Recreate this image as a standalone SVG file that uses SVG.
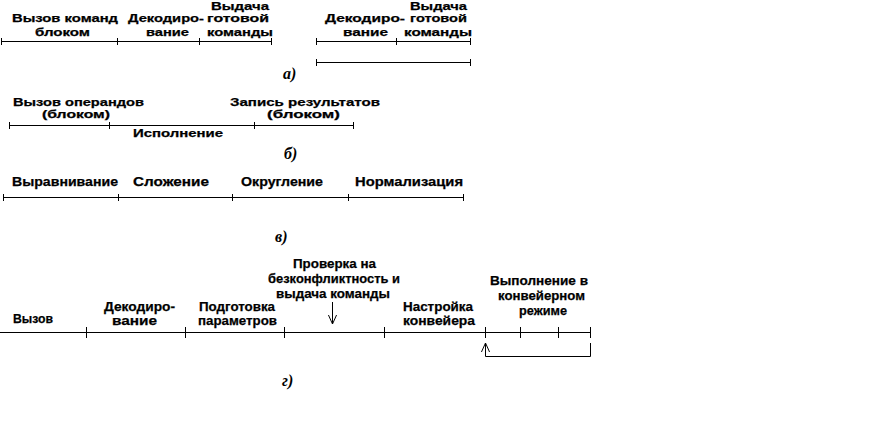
<svg xmlns="http://www.w3.org/2000/svg" width="889" height="448" viewBox="0 0 889 448">
<style>
.t{font-family:"Liberation Sans",Arial,sans-serif;font-weight:bold;font-size:11px;fill:#000;stroke:#000;stroke-width:0.25}
.tc{font-size:12px}
.tg{font-size:13.5px}
.lbl{font-family:"Liberation Serif","Times New Roman",serif;font-weight:bold;font-style:italic;font-size:16px;fill:#000}
.ln{stroke:#000;stroke-width:1;fill:none}
</style>
<defs>
<marker id="v" viewBox="0 0 10 10" refX="10" refY="5" markerWidth="10" markerHeight="9" markerUnits="userSpaceOnUse" orient="auto">
<path d="M0,0.5 L10,5 L0,9.5" fill="none" stroke="#000" stroke-width="1.1"/>
</marker>
</defs>
<rect width="889" height="448" fill="#fff"/>

<g id="connectors">
<path class="ln" d="M1,41.5H271 M1.5,38V45 M117.5,38V45 M199.5,38V45 M271.5,38V45"/>
<path class="ln" d="M316,41.5H470 M316.5,38V45 M396.5,38V45 M470.5,38V45"/>
<path class="ln" d="M316,62.5H470 M316.5,59V66 M470.5,59V66"/>
<path class="ln" d="M9,125.5H353 M9.5,122V129 M109.5,122V129 M254.5,122V129 M353.5,122V129"/>
<path class="ln" d="M3,197.5H463 M3.5,194V201 M118.5,194V201 M232.5,194V201 M348.5,194V201 M463.5,194V201"/>
<path class="ln" d="M0,332.5H590 M86.5,327V338 M185.5,327V338 M284.5,327V338 M384.5,327V338 M485.5,327V338 M520.5,327V338 M558.5,327V338 M590.5,327V338"/>
<path class="ln" d="M332.5,302V324" marker-end="url(#v)"/>
<path class="ln" d="M590.5,343V356.5H485.5V343" marker-end="url(#v)"/>
</g>

<g id="section-a">
<text class="t" x="211" y="10" textLength="58" lengthAdjust="spacingAndGlyphs">Выдача</text>
<text class="t" x="12" y="22" textLength="106" lengthAdjust="spacingAndGlyphs">Вызов команд</text>
<text class="t" x="128" y="22" textLength="76" lengthAdjust="spacingAndGlyphs">Декодиро-</text>
<text class="t" x="207" y="22" textLength="62" lengthAdjust="spacingAndGlyphs">готовой</text>
<text class="t" x="35" y="36" textLength="55" lengthAdjust="spacingAndGlyphs">блоком</text>
<text class="t" x="146" y="36" textLength="43" lengthAdjust="spacingAndGlyphs">вание</text>
<text class="t" x="207" y="36" textLength="66" lengthAdjust="spacingAndGlyphs">команды</text>
<text class="t" x="410" y="10" textLength="57" lengthAdjust="spacingAndGlyphs">Выдача</text>
<text class="t" x="325" y="22" textLength="80" lengthAdjust="spacingAndGlyphs">Декодиро-</text>
<text class="t" x="410" y="22" textLength="57" lengthAdjust="spacingAndGlyphs">готовой</text>
<text class="t" x="343" y="36" textLength="45" lengthAdjust="spacingAndGlyphs">вание</text>
<text class="t" x="404" y="36" textLength="68" lengthAdjust="spacingAndGlyphs">команды</text>
<text class="lbl" x="283" y="79">а)</text>
</g>

<g id="section-b">
<text class="t" x="13" y="106" textLength="131" lengthAdjust="spacingAndGlyphs">Вызов операндов</text>
<text class="t" x="42" y="118" textLength="68" lengthAdjust="spacingAndGlyphs">(блоком)</text>
<text class="t" x="230" y="106" textLength="150" lengthAdjust="spacingAndGlyphs">Запись результатов</text>
<text class="t" x="267" y="118" textLength="73" lengthAdjust="spacingAndGlyphs">(блоком)</text>
<text class="t" x="133" y="137" textLength="90" lengthAdjust="spacingAndGlyphs">Исполнение</text>
<text class="lbl" x="284" y="159">б)</text>
</g>

<g id="section-c">
<text class="t tc" x="12" y="186" textLength="106" lengthAdjust="spacingAndGlyphs">Выравнивание</text>
<text class="t tc" x="133" y="186" textLength="76" lengthAdjust="spacingAndGlyphs">Сложение</text>
<text class="t tc" x="241" y="186" textLength="82" lengthAdjust="spacingAndGlyphs">Округление</text>
<text class="t tc" x="355" y="186" textLength="108" lengthAdjust="spacingAndGlyphs">Нормализация</text>
<text class="lbl" x="275" y="242">в)</text>
</g>

<g id="section-d">
<text class="t tg" x="13" y="323" textLength="40" lengthAdjust="spacingAndGlyphs">Вызов</text>
<text class="t tg" x="104" y="311" textLength="71" lengthAdjust="spacingAndGlyphs">Декодиро-</text>
<text class="t tg" x="112" y="325" textLength="45" lengthAdjust="spacingAndGlyphs">вание</text>
<text class="t tg" x="199" y="311" textLength="76" lengthAdjust="spacingAndGlyphs">Подготовка</text>
<text class="t tg" x="198" y="325" textLength="79" lengthAdjust="spacingAndGlyphs">параметров</text>
<text class="t tg" x="293" y="268" textLength="83" lengthAdjust="spacingAndGlyphs">Проверка на</text>
<text class="t tg" x="268" y="283" textLength="132" lengthAdjust="spacingAndGlyphs">безконфликтность и</text>
<text class="t tg" x="276" y="298" textLength="114" lengthAdjust="spacingAndGlyphs">выдача команды</text>
<text class="t tg" x="403" y="311" textLength="70" lengthAdjust="spacingAndGlyphs">Настройка</text>
<text class="t tg" x="403" y="325" textLength="72" lengthAdjust="spacingAndGlyphs">конвейера</text>
<text class="t tg" x="490" y="285" textLength="98" lengthAdjust="spacingAndGlyphs">Выполнение в</text>
<text class="t tg" x="498" y="300" textLength="87" lengthAdjust="spacingAndGlyphs">конвейерном</text>
<text class="t tg" x="519" y="315" textLength="48" lengthAdjust="spacingAndGlyphs">режиме</text>
<text class="lbl" x="282" y="386">г)</text>
</g>
</svg>
